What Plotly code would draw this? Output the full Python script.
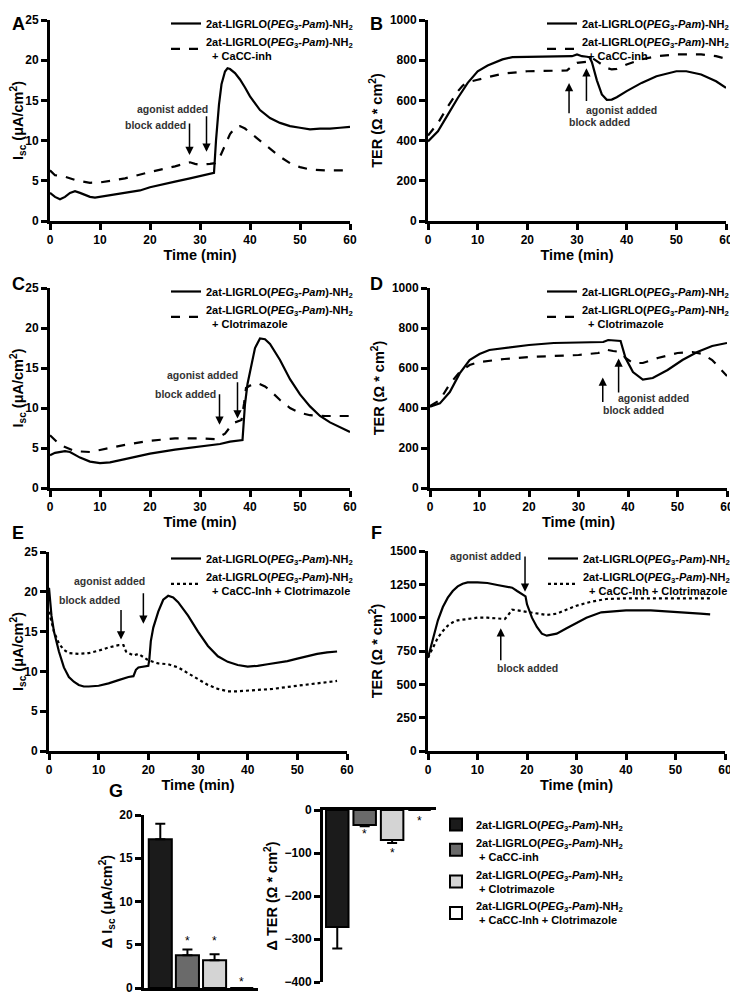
import plotly.graph_objects as go

# The page body adds an 8px margin, so the figure is drawn 8px in from the top-left corner.
OFF = 8
W, H = 738 - OFF, 999 - OFF
def px(x): return (x - OFF) / W
def py(y): return 1 - (y - OFF) / H

FONT = "Liberation Sans, Arial, Helvetica, sans-serif"
NAME = "2at-LIGRLO(<i>PEG</i><sub>3</sub>-<i>Pam</i>)-NH<sub>2</sub>"

# ---------------- data ----------------
A_solid_t = [0,1,2,3,4,5,6,7,8,9,10,12,15,18,20,22,25,28,30,32,32.8,33.2,33.8,34.3,35,35.5,36,37,38,39,40,42,44,46,48,50,52,54,56,58,60]
A_solid = [3.5,3.0,2.7,3.0,3.5,3.7,3.5,3.2,3.0,2.9,3.0,3.2,3.5,3.8,4.2,4.5,4.9,5.3,5.6,5.9,6.0,10.0,14.5,17.0,18.6,19.0,18.9,18.4,17.6,16.6,15.5,13.8,12.8,12.2,11.8,11.6,11.4,11.5,11.5,11.6,11.7]
A_dash_t = [0,1,3,5,8,10,15,20,25,28,29,30,32,33,34,35,36,37,38,39,40,42,44,46,48,50,52,55,60]
A_dash = [6.3,5.7,5.5,5.1,4.75,4.8,5.3,6.1,6.8,7.3,7.1,7.0,7.1,7.2,8.0,9.3,10.8,11.6,11.8,11.5,11.0,10.0,9.0,8.0,7.2,6.7,6.4,6.3,6.3]

B_solid_t = [0,2,4,6,8,10,12,15,17,20,25,29,30,31,32,32.5,33,34,35,36,37,38,40,43,46,50,52,55,58,60]
B_solid = [396,446,529,612,687,745,774,804,815,817,817,820,829,820,817,815,790,700,630,603,604,616,646,687,720,745,745,729,695,662]
B_dash_t = [0,2,4,6,7,8,10,15,20,25,28,29,30,32,33,34,35,36,37,38,40,43,46,50,55,58,60]
B_dash = [425,487,570,645,674,690,703,733,745,749,749,770,787,792,812,795,779,762,754,757,779,804,820,829,829,820,807]

C_solid_t = [0,1,3,4,6,8,10,12,15,20,25,30,34,36,38,38.5,39,39.5,40,41,42,43,44,46,48,50,52,54,56,58,60]
C_solid = [4.1,4.4,4.6,4.5,3.8,3.3,3.1,3.2,3.6,4.3,4.8,5.2,5.5,5.8,5.9,6.0,10.5,13.0,14.5,17.5,18.7,18.6,18.0,16.0,13.6,11.7,10.2,9.0,8.2,7.6,7.0]
C_dash_t = [0,2,5,8,10,15,20,25,30,33,35,36,37,38.3,38.8,39.2,40,41.5,43,44,46,48,50,52,55,60]
C_dash = [6.6,5.4,4.6,4.5,4.75,5.4,5.9,6.2,6.2,6.1,6.8,7.6,8.2,8.5,10.5,12.5,12.8,13.1,12.7,12.2,11.0,10.0,9.4,9.1,9.0,9.0]

D_solid_t = [0,2,4,6,8,10,12,15,20,25,30,35,36,38.5,39.5,41,43,45,48,51,54,57,60]
D_solid = [407,423,480,573,640,670,690,700,715,725,728,730,740,735,650,580,542,550,590,640,680,710,725]
D_dash_t = [0,2,4,6,8,10,15,20,25,30,34,35.5,37,38.5,39.5,41,43,46,50,53,55,57,60]
D_dash = [410,440,520,580,615,630,645,655,660,665,675,692,685,680,650,625,625,650,675,680,670,640,560]

E_solid_t = [0,0.5,1,2,3,4,5,6,7,8,10,12,14,16,17,17.5,18,19,20,20.2,20.5,21,22,23,24,25,26,28,30,32,34,36,38,40,42,44,46,48,50,52,54,56,58]
E_solid = [20.5,17,15,12.5,10.5,9.3,8.7,8.3,8.1,8.1,8.2,8.5,8.9,9.3,9.4,10.2,10.5,10.6,10.7,11.5,13.8,15.5,17.5,19.0,19.5,19.3,18.7,17.0,15.0,13.2,11.9,11.2,10.8,10.6,10.7,10.9,11.1,11.3,11.6,11.9,12.2,12.4,12.5]
E_dot_t = [0,1,2,3,4,6,8,10,12,14,15,15.5,16,17,18,19,20,22,24,26,28,30,32,34,36,38,40,45,50,55,58]
E_dot = [17.5,15,13.5,12.7,12.3,12.2,12.3,12.6,13.0,13.3,13.3,12.5,12.3,12.0,12.2,11.8,11.4,11.0,10.9,10.5,9.8,9.0,8.3,7.8,7.5,7.5,7.6,7.8,8.2,8.6,8.8]

F_solid_t = [0,1,2,3,4,5,6,7,8,10,12,14,16,17,18,19,19.7,20,21,22,23,24,25,26,28,30,32,35,38,40,45,50,55,57]
F_solid = [700,850,980,1080,1150,1200,1235,1255,1265,1265,1260,1245,1230,1225,1200,1180,1160,1100,1000,930,880,865,870,880,920,960,1000,1040,1050,1055,1055,1045,1030,1025]
F_dot_t = [0,1,2,3,4,5,6,8,10,12,14,15.5,16,17,18,20,22,24,26,28,30,33,36,40,50,57]
F_dot = [700,780,850,900,940,965,980,990,1000,1000,995,990,1010,1060,1055,1045,1030,1020,1030,1060,1090,1120,1140,1145,1145,1145]

G_groups = [NAME, NAME + "<br>\u00a0+ CaCC-inh", NAME + "<br>\u00a0+ Clotrimazole", NAME + "<br>\u00a0+ CaCC-Inh + Clotrimazole"]
G_colors = ["#1b1b1b", "#6a6a6a", "#d4d4d4", "#ffffff"]
G_isc = [17.2, 3.8, 3.2, 0]
G_isc_err = [1.8, 0.65, 0.7, 0]
G_ter = [-272, -35, -70, 0]
G_ter_err = [50, 3, 7, 0]
G_isc_star = [None, 5.4, 5.4, 0.7]
G_ter_star = [None, -55, -100, -25]

# arrows: (x, head_y, tail_y)
arrows = {
    1: [(27.9, 8.2, 12.3), (31.3, 8.6, 13.2)],
    2: [(28.4, 687, 529), (31.9, 760, 590)],
    3: [(33.9, 7.9, 11.9), (37.5, 8.7, 13.4)],
    4: [(34.9, 553, 423), (38.1, 648, 470)],
    5: [(14.5, 14.0, 17.9), (19.0, 16.0, 20.0)],
    6: [(19.6, 1195, 1470), (14.7, 920, 670)],
}
# labels: (text, x, y, xanchor)
labels = {
    1: [("agonist added", 32.0, 13.9, "right"), ("block added", 27.6, 12.0, "right")],
    2: [("agonist added", 31.4, 553, "left"), ("block added", 27.9, 492, "left")],
    3: [("agonist added", 38.0, 14.1, "right"), ("block added", 33.6, 11.7, "right")],
    4: [("agonist added", 37.6, 450, "left"), ("block added", 34.5, 390, "left")],
    5: [("agonist added", 19.8, 21.3, "right"), ("block added", 14.6, 19.0, "right")],
    6: [("agonist added", 19.2, 1460, "right"), ("block added", 20.0, 620, "center")],
}

# ---------------- layout geometry (page pixels) ----------------
dom = {
    1: ((50, 350), (20, 221)),
    2: ((428, 726), (20, 221)),
    3: ((50, 350), (288, 488)),
    4: ((430, 727), (288, 488)),
    5: ((49, 347), (552, 751)),
    6: ((428, 725), (551, 751)),
    7: ((144, 258), (815, 988)),
    8: ((323, 436), (810, 982)),
}

fig = go.Figure()

line_series = [
    (1, A_solid_t, A_solid, "solid", NAME),
    (1, A_dash_t, A_dash, "dash", NAME + "<br>\u00a0\u00a0+ CaCC-inh"),
    (2, B_solid_t, B_solid, "solid", NAME),
    (2, B_dash_t, B_dash, "dash", NAME + "<br>\u00a0\u00a0+ CaCC-inh"),
    (3, C_solid_t, C_solid, "solid", NAME),
    (3, C_dash_t, C_dash, "dash", NAME + "<br>\u00a0\u00a0+ Clotrimazole"),
    (4, D_solid_t, D_solid, "solid", NAME),
    (4, D_dash_t, D_dash, "dash", NAME + "<br>\u00a0\u00a0+ Clotrimazole"),
    (5, E_solid_t, E_solid, "solid", NAME),
    (5, E_dot_t, E_dot, "dot", NAME + "<br>\u00a0\u00a0+ CaCC-Inh + Clotrimazole"),
    (6, F_solid_t, F_solid, "solid", NAME),
    (6, F_dot_t, F_dot, "dot", NAME + "<br>\u00a0\u00a0+ CaCC-Inh + Clotrimazole"),
]
for k, t, v, dash, name in line_series:
    sfx = "" if k == 1 else str(k)
    fig.add_trace(go.Scatter(
        x=t, y=v, mode="lines", name=name,
        line=dict(color="black", width=2.2, dash=dash),
        xaxis="x" + sfx, yaxis="y" + sfx,
        legend="legend" + sfx,
    ))

for i in range(4):
    err_kw = dict(type="data", symmetric=False, color="black", thickness=2, width=5)
    fig.add_trace(go.Bar(
        x=[i], y=[G_isc[i]], name=G_groups[i], width=0.85,
        marker=dict(color=G_colors[i], line=dict(color="black", width=2)),
        error_y=dict(err_kw, array=[G_isc_err[i]], arrayminus=[0], visible=G_isc_err[i] > 0),
        xaxis="x7", yaxis="y7", legend="legend7", showlegend=True,
    ))
    fig.add_trace(go.Bar(
        x=[i], y=[G_ter[i]], name=G_groups[i], width=0.82,
        marker=dict(color=G_colors[i], line=dict(color="black", width=2)),
        error_y=dict(err_kw, array=[0], arrayminus=[G_ter_err[i]], visible=G_ter_err[i] > 0),
        xaxis="x8", yaxis="y8", legend="legend7", showlegend=False,
    ))

axis_common = dict(
    showline=True, linewidth=3, linecolor="black", ticks="outside", ticklen=6,
    tickwidth=3, tickcolor="black", showgrid=False, zeroline=False, automargin=False,
    tickfont=dict(family=FONT, size=12, weight="bold", color="black"),
)
title_font = dict(family=FONT, size=14.5, weight="bold", color="black")

yinfo = {
    1: ([0, 25], 5, "I<sub>sc</sub> (μA/cm<sup>2</sup>)"),
    2: ([0, 1000], 200, "TER (Ω * cm<sup>2</sup>)"),
    3: ([0, 25], 5, "I<sub>sc</sub> (μA/cm<sup>2</sup>)"),
    4: ([0, 1000], 200, "TER (Ω * cm<sup>2</sup>)"),
    5: ([0, 25], 5, "I<sub>sc</sub> (μA/cm<sup>2</sup>)"),
    6: ([0, 1500], 250, "TER (Ω * cm<sup>2</sup>)"),
    7: ([0, 20], 5, "Δ I<sub>sc</sub> (μA/cm<sup>2</sup>)"),
    8: ([-400, 0], 100, "Δ TER (Ω * cm<sup>2</sup>)"),
}

lay = {}
for k in range(1, 9):
    sfx = "" if k == 1 else str(k)
    (x0, x1), (y0, y1) = dom[k]
    yr, dt, ytitle = yinfo[k]
    if k <= 6:
        xa = dict(axis_common, domain=[px(x0), px(x1)], range=[0, 60], dtick=10,
                  anchor="y" + sfx,
                  title=dict(text="Time (min)", font=title_font, standoff=0))
    elif k == 7:
        xa = dict(axis_common, domain=[px(x0), px(x1)], range=[-0.6, 3.6],
                  anchor="y" + sfx, ticks="", showticklabels=False)
    else:
        xa = dict(axis_common, domain=[px(x0), px(x1)], range=[-0.52, 3.6],
                  anchor="y" + sfx, ticks="", showticklabels=False, side="top")
    ya = dict(axis_common, domain=[py(y1), py(y0)], range=yr, dtick=dt,
              anchor="x" + sfx, title=dict(text=ytitle, font=title_font, standoff=4))
    lay["xaxis" + sfx] = xa
    lay["yaxis" + sfx] = ya

legend_font = dict(family=FONT, size=11, weight="bold", color="black")
leg_pos = {1: (358, 9), 2: (734, 9), 3: (358, 277), 4: (734, 277), 5: (358, 544), 6: (735, 544)}
for k, (lx, ly) in leg_pos.items():
    sfx = "" if k == 1 else str(k)
    lay["legend" + sfx] = dict(x=px(lx), xanchor="right", y=py(ly), yanchor="top",
                               bgcolor="rgba(0,0,0,0)", font=legend_font, itemwidth=30,
                               tracegroupgap=0)
lay["legend7"] = dict(x=px(436), xanchor="left", y=py(810), yanchor="top",
                      bgcolor="rgba(0,0,0,0)", font=legend_font, itemwidth=30,
                      tracegroupgap=3, traceorder="normal")

annotations = []
for k, arr in arrows.items():
    sfx = "" if k == 1 else str(k)
    for (x, yh, yt) in arr:
        annotations.append(dict(x=x, y=yh, ax=x, ay=yt, xref="x" + sfx, yref="y" + sfx,
                                axref="x" + sfx, ayref="y" + sfx, text="", showarrow=True,
                                arrowhead=2, arrowsize=1.1, arrowwidth=1.5, arrowcolor="black"))
for k, labs in labels.items():
    sfx = "" if k == 1 else str(k)
    for (txt, x, y, xa) in labs:
        annotations.append(dict(x=x, y=y, xref="x" + sfx, yref="y" + sfx, text=txt,
                                showarrow=False, xanchor=xa,
                                font=dict(family=FONT, size=10.5, weight="bold", color="#333333")))
for i in range(4):
    if G_isc_star[i] is not None:
        annotations.append(dict(x=i, y=G_isc_star[i], xref="x7", yref="y7", text="*",
                                showarrow=False, font=dict(family=FONT, size=12, color="black")))
    if G_ter_star[i] is not None:
        annotations.append(dict(x=i, y=G_ter_star[i], xref="x8", yref="y8", text="*",
                                showarrow=False, font=dict(family=FONT, size=12, color="black")))

letters = [("A", 10, 12), ("B", 376, 12), ("C", 10, 272), ("D", 376, 272),
           ("E", 10, 533), ("F", 376, 533), ("G", 107, 803)]
for txt, x, y in letters:
    annotations.append(dict(x=px(x), y=py(y), xref="paper", yref="paper", text=txt,
                            showarrow=False, font=dict(family=FONT, size=18, weight="bold", color="black")))

fig.update_layout(
    width=W, height=H, autosize=False,
    margin=dict(l=0, r=0, t=0, b=0, pad=0, autoexpand=False),
    paper_bgcolor="white", plot_bgcolor="white",
    font=dict(family=FONT, color="black"),
    barmode="overlay",
    annotations=annotations,
    **lay,
)

fig.write_html("out.html")
